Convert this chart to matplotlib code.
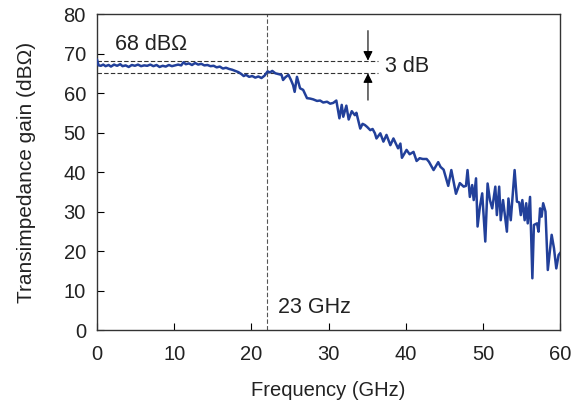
import matplotlib
matplotlib.use("Agg")
import matplotlib.pyplot as plt

plt.rcParams['font.family'] = ['Liberation Sans', 'DejaVu Sans']

# measured transimpedance gain vs frequency
freq = [0.0, 0.2, 0.5, 0.8, 1.1, 1.5, 1.8, 2.2, 2.6, 3.0, 3.3, 3.7, 4.1, 4.5, 4.9,
        5.3, 5.7, 6.1, 6.5, 6.9, 7.3, 7.7, 8.1, 8.5, 8.9, 9.3, 9.7, 10.1, 10.5, 10.9,
        11.2, 11.5, 11.9, 12.3, 12.7, 13.1, 13.5, 13.9, 14.3, 14.7, 15.1, 15.5, 15.9,
        16.3, 16.7, 17.1, 17.5, 17.9, 18.3, 18.7, 19.0, 19.3, 19.7, 20.1, 20.5, 20.9,
        21.3, 21.7, 22.1, 22.4, 22.7, 23.1, 23.5, 23.9, 24.1, 24.4, 24.8, 25.1, 25.4,
        25.6, 25.9, 26.3, 26.7, 27.2, 27.6, 28.0, 28.5, 28.9, 29.3, 29.8, 30.2, 30.6,
        31.0, 31.4, 31.7, 31.9, 32.3, 32.6, 33.0, 33.4, 33.6, 34.1, 34.4, 34.7, 35.0,
        35.4, 35.7, 36.0, 36.2, 36.7, 37.1, 37.5, 38.0, 38.4, 39.0, 39.3, 39.5, 40.1,
        40.5, 41.0, 41.4, 41.8, 42.2, 42.7, 43.0, 43.6, 44.2, 44.5, 44.9, 45.5, 45.9,
        46.5, 47.0, 47.5, 47.8, 48.0, 48.3, 48.6, 48.8, 49.1, 49.3, 49.6, 49.9, 50.3,
        50.6, 50.9, 51.2, 51.6, 51.8, 52.1, 52.3, 52.6, 53.1, 53.3, 53.6, 54.1, 54.4,
        54.7, 54.9, 55.1, 55.4, 55.6, 55.8, 56.1, 56.4, 56.6, 57.0, 57.2, 57.4, 57.6,
        57.8, 58.1, 58.4, 58.9, 59.2, 59.5, 59.8, 60.0]
gain = [68.4, 67.0, 66.9, 67.2, 66.8, 67.1, 66.7, 67.2, 66.9, 67.3, 66.8, 67.0, 66.6, 67.1, 66.9,
        67.2, 66.8, 67.0, 66.9, 67.2, 66.8, 67.1, 66.6, 66.9, 66.7, 67.1, 66.8, 67.0, 67.2, 67.0,
        67.8, 67.3, 67.5, 67.1, 67.6, 67.2, 67.4, 67.0, 67.1, 66.8, 66.9, 66.5, 66.7,
        66.2, 66.4, 66.1, 65.9, 65.6, 65.3, 64.8, 64.3, 64.6, 64.1, 64.3, 63.9, 64.2,
        63.8, 64.4, 65.5, 65.2, 65.6, 65.0, 64.8, 64.6, 63.3, 64.0, 64.6, 63.4, 62.0,
        60.3, 64.1, 61.2, 60.8, 58.7, 58.6, 58.4, 58.0, 58.1, 57.6, 57.8, 57.3, 57.5,
        58.1, 53.6, 57.0, 54.0, 56.8, 53.3, 55.4, 54.4, 55.0, 51.0, 52.2, 51.9, 51.4,
        50.6, 50.9, 49.8, 48.5, 49.8, 47.7, 49.4, 46.8, 48.5, 46.0, 47.2, 43.6, 45.6,
        44.5, 45.1, 42.8, 43.5, 43.3, 43.3, 42.6, 40.5, 42.5, 41.3, 40.6, 36.5, 40.5,
        34.5, 37.2, 36.3, 36.5, 40.5, 33.7, 36.7, 32.9, 38.4, 26.2, 31.2, 34.6, 22.4,
        37.1, 32.9, 30.8, 36.3, 29.1, 36.3, 27.8, 32.9, 24.9, 33.3, 27.8, 40.5, 32.5,
        32.3, 29.1, 32.9, 27.8, 32.1, 27.0, 33.7, 13.1, 26.6, 27.0, 24.9, 30.8, 28.7,
        32.1, 30.0, 15.2, 24.1, 20.7, 15.6, 19.0, 19.5]

x_ticks = [0, 10, 20, 30, 40, 50, 60]
y_ticks = [0, 10, 20, 30, 40, 50, 60, 70, 80]

f_3db = 22.0
g_ref = 68.2
g_3db = 65.0

fig = plt.figure(figsize=(5.71, 4.01), dpi=100)
ax = fig.add_axes([0.170, 0.177, 0.811, 0.788])

ax.plot(freq, gain, color='#22409a', lw=1.8, zorder=3)

# guide lines
ax.plot([0, 36.4], [g_ref, g_ref], ls=(0, (4, 2)), color='#333333', lw=0.8)
ax.plot([0, 36.4], [g_3db, g_3db], ls=(0, (4, 2)), color='#333333', lw=0.8)
ax.axvline(f_3db, ls=(0, (4, 2)), color='#555555', lw=0.8)

# 3 dB arrows
arrow = dict(arrowstyle='-|>', color='black', lw=0.8, mutation_scale=14,
             shrinkA=0, shrinkB=0)
ax.annotate('', xy=(35.1, g_ref), xytext=(35.1, 75.8), arrowprops=arrow)
ax.annotate('', xy=(35.1, g_3db), xytext=(35.1, 58.2), arrowprops=arrow)

ax.text(2.3, 72.3, '68 dBΩ', fontsize=15.5, va='center', ha='left', color='#222222')
ax.text(37.3, 66.6, '3 dB', fontsize=15.5, va='center', ha='left', color='#222222')
ax.text(23.4, 5.7, '23 GHz', fontsize=15.5, va='center', ha='left', color='#222222')

ax.set_xlim(0, 60)
ax.set_ylim(0, 80)
ax.set_xticks(x_ticks)
ax.set_yticks(y_ticks)
ax.tick_params(direction='in', length=5, width=0.8, labelsize=14.5,
               labelcolor='#222222')
ax.tick_params(axis='x', pad=11)
ax.tick_params(axis='y', pad=8)
for s in ax.spines.values():
    s.set_color('#333333')
    s.set_linewidth(1.0)

ax.set_xlabel('Frequency (GHz)', fontsize=14.5, labelpad=12, color='#222222')
ax.set_ylabel('Transimpedance gain (dBΩ)', fontsize=15, labelpad=20, color='#222222')

fig.savefig('out.png', dpi=100)
